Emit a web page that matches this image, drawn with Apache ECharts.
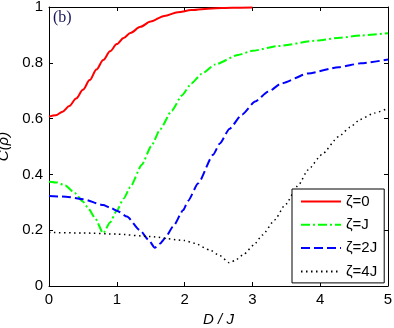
<!DOCTYPE html>
<html>
<head>
<meta charset="utf-8">
<script src="https://cdn.jsdelivr.net/npm/echarts@6/dist/echarts.min.js"></script>
<style>html,body{margin:0;padding:0;background:#fff}#c{width:394px;height:328px}</style>
</head>
<body>
<div id="c"></div>
<script>
var seriesNames = ['ζ=0', 'ζ=J', 'ζ=2J', 'ζ=4J'];
var xTicks = [0, 1, 2, 3, 4, 5];
var yTicks = [0, 0.2, 0.4, 0.6, 0.8, 1];

var redD = [0, 0.1, 0.2, 0.3, 0.4, 0.5, 0.6, 0.7, 0.8, 0.9, 1.0, 1.1, 1.2, 1.35, 1.5, 1.7, 1.9, 2.1, 2.4, 2.7, 3.0];
var redC = [0.607, 0.612, 0.625, 0.645, 0.672, 0.703, 0.738, 0.776, 0.810, 0.841, 0.867, 0.889, 0.907, 0.929, 0.948, 0.968, 0.981, 0.989, 0.995, 0.997, 0.998];

var greenD = [0, 0.12, 0.24, 0.38, 0.5, 0.58, 0.68, 0.8, 0.9, 1.0, 1.1, 1.2, 1.37, 1.51, 1.64, 1.81, 1.96, 2.1, 2.25, 2.45, 2.79, 3.0, 3.38, 3.92, 4.29, 4.6, 5.0];
var greenC = [0.374, 0.371, 0.360, 0.333, 0.303, 0.278, 0.243, 0.189, 0.228, 0.270, 0.313, 0.355, 0.435, 0.502, 0.562, 0.628, 0.683, 0.726, 0.760, 0.794, 0.828, 0.843, 0.860, 0.879, 0.890, 0.898, 0.906];

var blueD = [0, 0.25, 0.5, 0.8, 0.9, 1.0, 1.15, 1.34, 1.47, 1.56, 1.64, 1.71, 1.83, 1.98, 2.05, 2.2, 2.42, 2.52, 2.66, 2.85, 3.04, 3.23, 3.43, 3.82, 4.27, 4.6, 5.0];
var blueC = [0.323, 0.32, 0.311, 0.29, 0.281, 0.27, 0.249, 0.2, 0.165, 0.137, 0.152, 0.171, 0.213, 0.272, 0.305, 0.368, 0.47, 0.511, 0.563, 0.615, 0.661, 0.696, 0.726, 0.762, 0.784, 0.798, 0.812];

var blackD = [0, 0.5, 1.0, 1.5, 2.0, 2.15, 2.37, 2.52, 2.66, 2.74, 2.87, 3.02, 3.15, 3.33, 3.48, 3.68, 3.82, 4.02, 4.27, 4.44, 4.59, 4.8, 5.0];
var blackC = [0.192, 0.19, 0.186, 0.177, 0.163, 0.153, 0.129, 0.109, 0.083, 0.091, 0.113, 0.147, 0.183, 0.237, 0.29, 0.362, 0.416, 0.47, 0.535, 0.569, 0.597, 0.62, 0.637];

function pairs(xs, ys) { return xs.map(function (x, i) { return [x, ys[i]]; }); }

var font = '"Liberation Sans", Arial, sans-serif';
var chart = echarts.init(document.getElementById('c'), null, {renderer: 'canvas'});

var axisCommon = {
  axisLine: {show: true, onZero: false, lineStyle: {color: '#000', width: 1}},
  axisTick: {show: true, inside: true, length: 4, lineStyle: {color: '#000'}},
  splitLine: {show: false}
};

chart.setOption({
  animation: false,
  backgroundColor: '#fff',
  grid: {left: 49, top: 7, right: 6, bottom: 42, containLabel: false, outerBoundsMode: 'none'},
  xAxis: [
    Object.assign({}, axisCommon, {
      type: 'value', min: xTicks[0], max: xTicks[xTicks.length - 1], interval: 1,
      position: 'bottom',
      axisLabel: {color: '#000', fontSize: 15, fontFamily: font, margin: 6},
      name: 'D / J', nameLocation: 'middle', nameGap: 23,
      nameTextStyle: {color: '#000', fontSize: 15, fontFamily: font, fontStyle: 'italic'}
    }),
    Object.assign({}, axisCommon, {
      type: 'value', min: xTicks[0], max: xTicks[xTicks.length - 1], interval: 1,
      position: 'top', axisLabel: {show: false}
    })
  ],
  yAxis: [
    Object.assign({}, axisCommon, {
      type: 'value', min: yTicks[0], max: yTicks[yTicks.length - 1], interval: 0.2,
      position: 'left',
      axisLabel: {color: '#000', fontSize: 15, fontFamily: font, margin: 6},
      name: 'C(ρ)', nameLocation: 'middle', nameGap: 34,
      nameTextStyle: {color: '#000', fontSize: 15, fontFamily: font, fontStyle: 'italic'}
    }),
    Object.assign({}, axisCommon, {
      type: 'value', min: yTicks[0], max: yTicks[yTicks.length - 1], interval: 0.2,
      position: 'right', axisLabel: {show: false}
    })
  ],
  legend: {
    orient: 'vertical', left: 292, top: 189,
    padding: [5, 7, 4, 8], itemGap: 8.3, itemWidth: 40, itemHeight: 14,
    backgroundColor: '#fff', borderColor: '#000', borderWidth: 1,
    itemStyle: {opacity: 0},
    textStyle: {color: '#000', fontSize: 15, fontFamily: font},
    data: seriesNames
  },
  graphic: [{
    type: 'text', left: 53, top: 10,
    style: {text: '(b)', fontSize: 16, fontFamily: '"Liberation Serif", "Times New Roman", serif', fill: '#14145a'}
  }],
  series: [
    {name: seriesNames[0], type: 'line', data: pairs(redD, redC), symbol: 'none', smooth: 0.3, smoothMonotone: 'x',
     lineStyle: {color: '#ff0000', width: 2}, itemStyle: {color: '#ff0000'}},
    {name: seriesNames[1], type: 'line', data: pairs(greenD, greenC), symbol: 'none', smooth: 0.2, smoothMonotone: 'x',
     lineStyle: {color: '#00ff00', width: 2, type: [9, 3, 2, 3]}, itemStyle: {color: '#00ff00'}},
    {name: seriesNames[2], type: 'line', data: pairs(blueD, blueC), symbol: 'none', smooth: 0.2, smoothMonotone: 'x',
     lineStyle: {color: '#0000ff', width: 2, type: [9, 4]}, itemStyle: {color: '#0000ff'}},
    {name: seriesNames[3], type: 'line', data: pairs(blackD, blackC), symbol: 'none', smooth: 0.2, smoothMonotone: 'x',
     lineStyle: {color: '#000000', width: 1.5, type: [1.5, 3.5]}, itemStyle: {color: '#000000'}}
  ]
});
</script>
</body>
</html>
